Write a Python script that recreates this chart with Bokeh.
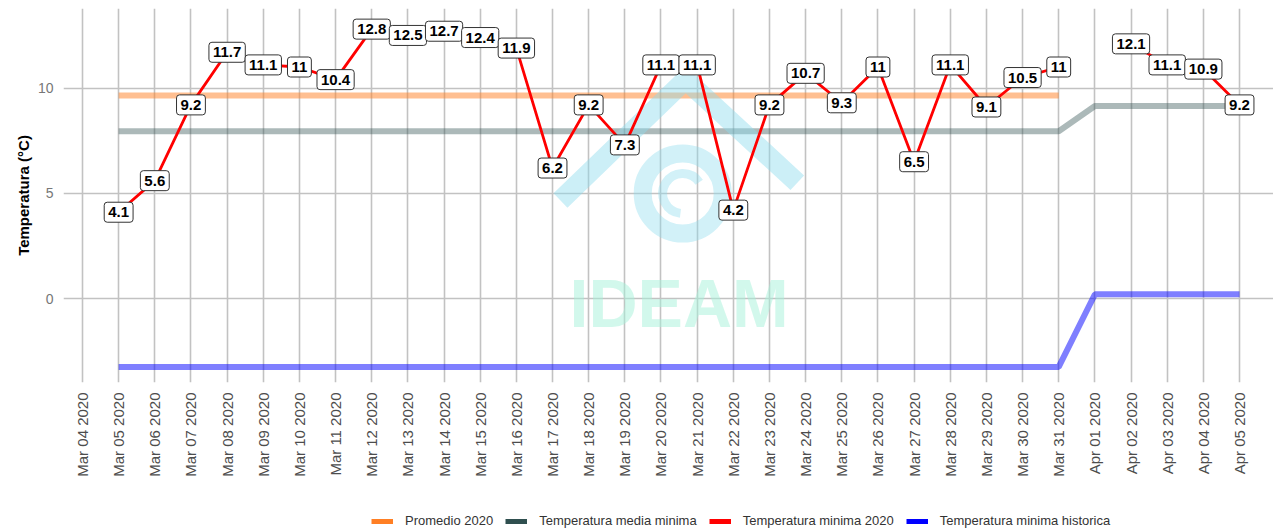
import numpy as np
import pandas as pd
from bokeh.plotting import figure
from bokeh.layouts import column
from bokeh.models import (ColumnDataSource, FixedTicker, DatetimeTickFormatter,
                          Range1d, Legend, LegendItem, Label)
from bokeh.core.properties import value
from bokeh.embed import file_html
from bokeh.resources import INLINE

nan = float("nan")

# ---------------- data ----------------
dates = pd.date_range("2020-03-05", "2020-04-05", freq="D")
tmin_2020 = [4.1, 5.6, 9.2, 11.7, 11.1, 11.0, 10.4, 12.8, 12.5, 12.7, 12.4, 11.9,
             6.2, 9.2, 7.3, 11.1, 11.1, 4.2, 9.2, 10.7, 9.3, 11.0, 6.5, 11.1,
             9.1, 10.5, 11.0, nan, 12.1, 11.1, 10.9, 9.2]
promedio_2020 = [9.65] * 27 + [nan] * 5
media_minima = [7.95] * 27 + [9.15] * 5
minima_historica = [-3.25] * 27 + [0.2] * 5
tick_dates = pd.date_range("2020-03-04", "2020-04-06", freq="D")
y_ticks = [0, 5, 10]
legend_labels = ["Promedio 2020", "Temperatura media minima",
                 "Temperatura minima 2020", "Temperatura minima historica"]

FONT = "Liberation Sans"
DAY = 86400000.0
t0 = pd.Timestamp("2020-03-04").value / 1e6

def ms(day_offset):
    return t0 + day_offset * DAY

src = ColumnDataSource(dict(date=dates, tmin=tmin_2020, prom=promedio_2020,
                            media=media_minima, hist=minima_historica))
lab_mask = [not np.isnan(v) for v in tmin_2020]
lab_src = ColumnDataSource(dict(
    date=[d for d, m in zip(dates, lab_mask) if m],
    tmin=[v for v in tmin_2020 if not np.isnan(v)],
    txt=[f"{v:g}" for v in tmin_2020 if not np.isnan(v)],
))

p = figure(width=1273, height=507, x_axis_type="datetime",
           x_range=Range1d(ms(-0.525), ms(32.94)), y_range=Range1d(-3.99, 13.78),
           output_backend="svg", toolbar_location=None,
           min_border_left=63, min_border_right=0, min_border_top=8,
           min_border_bottom=125)
p.outline_line_color = None
p.background_fill_color = "white"

# axes
p.xaxis.ticker = FixedTicker(ticks=[d.value / 1e6 for d in tick_dates])
fmt = "%b %d %Y"
p.xaxis.formatter = DatetimeTickFormatter(days=fmt, months=fmt, years=fmt, hours=fmt,
                                          hourmin=fmt, minutes=fmt, minsec=fmt,
                                          seconds=fmt, milliseconds=fmt,
                                          microseconds=fmt)
p.xaxis.major_label_orientation = np.pi / 2
p.xaxis.major_label_text_font = FONT
p.xaxis.major_label_text_font_size = "15px"
p.xaxis.major_label_text_color = "#4d4d4d"
p.xaxis.major_label_standoff = 10
p.xaxis.axis_line_color = None
p.xaxis.major_tick_line_color = None
p.xaxis.minor_tick_line_color = None
p.xaxis.major_tick_out = 0
p.xaxis.major_tick_in = 0
p.xaxis.minor_tick_out = 0

p.yaxis.ticker = FixedTicker(ticks=y_ticks)
p.yaxis.major_label_text_font = FONT
p.yaxis.major_label_text_font_size = "14px"
p.yaxis.major_label_text_color = "#777777"
p.yaxis.major_label_standoff = 10
p.yaxis.axis_line_color = None
p.yaxis.major_tick_line_color = None
p.yaxis.minor_tick_line_color = None
p.yaxis.major_tick_out = 0
p.yaxis.major_tick_in = 0
p.yaxis.minor_tick_out = 0
p.yaxis.axis_label = "Temperatura (°C)"
p.yaxis.axis_label_text_font = FONT
p.yaxis.axis_label_text_font_style = "bold"
p.yaxis.axis_label_text_font_size = "15px"
p.yaxis.axis_label_text_color = "black"
p.yaxis.axis_label_standoff = 3

for g in (p.xgrid, p.ygrid):
    g.grid_line_color = "#c2c2c2"
    g.grid_line_width = 1.6

# background reference lines
p.line("date", "prom", source=src, line_color="#FF7F24", line_alpha=0.5, line_width=6)
p.line("date", "media", source=src, line_color="#2F4F4F", line_alpha=0.4, line_width=6)
p.line("date", "hist", source=src, line_color="#0000FF", line_alpha=0.5, line_width=6)

# watermark (IDEAM logo)
wm = "#8fdcee"
p.line([ms(13.22), ms(16.68), ms(19.77)], [4.66, 10.4, 5.5], line_color=wm,
       line_alpha=0.45, line_width=20, line_join="miter")
p.scatter([ms(16.6)], [4.99], marker="circle", size=80, fill_alpha=0,
          line_color=wm, line_alpha=0.4, line_width=18)
p.arc([ms(16.6)], [4.99], radius=20, radius_units="screen", start_angle=0.6,
      end_angle=4.6, line_color=wm, line_alpha=0.4, line_width=9)
p.text([ms(16.5)], [-0.2], text=["IDEAM"], text_font=value(FONT),
       text_font_style="bold", text_font_size="68px", text_align="center",
       text_baseline="middle", text_color="#a6f2da", text_alpha=0.5)

# red series
p.line("date", "tmin", source=src, line_color="#FF0000", line_width=2.8)
p.text("date", "tmin", text="txt", source=lab_src, text_font=value(FONT),
       text_font_style="bold", text_font_size="15px", text_color="black",
       text_align="center", text_baseline="middle",
       background_fill_color="white", border_line_color="#333333",
       border_line_width=1, padding=(4, 5), border_radius=3)

# fragment of the neighbouring chart's tick label at the far left edge
p.add_layout(Label(x=-61, y=-10, x_units="screen", y_units="screen",
                   text="Apr 05 2020", angle=np.pi / 2, text_align="right",
                   text_baseline="middle", text_font=FONT, text_font_size="15px",
                   text_color="#4d4d4d"))

# legend strip (separate small figure directly below the chart)
leg = figure(width=1273, height=23, x_range=Range1d(0, 1), y_range=Range1d(0, 1),
             output_backend="svg", toolbar_location=None,
             x_axis_location=None, y_axis_location=None, min_border=0)
leg.outline_line_color = None
leg.xgrid.visible = False
leg.ygrid.visible = False
colors = ["#FF7F24", "#2F4F4F", "#FF0000", "#0000FF"]
items = []
for lab, c in zip(legend_labels, colors):
    r = leg.line([nan], [nan], line_color=c, line_width=5)
    items.append(LegendItem(label=lab, renderers=[r]))
legend = Legend(items=items, orientation="horizontal", location=(308, 2),
                label_text_font=FONT, label_text_font_size="13px",
                label_text_color="#333333", glyph_width=22, glyph_height=14,
                label_height=14, label_standoff=12, spacing=12,
                border_line_color=None, background_fill_alpha=0, padding=2,
                margin=0)
leg.add_layout(legend, "center")

layout = column(p, leg, spacing=0)
open("out.html", "w").write(file_html(layout, INLINE))
